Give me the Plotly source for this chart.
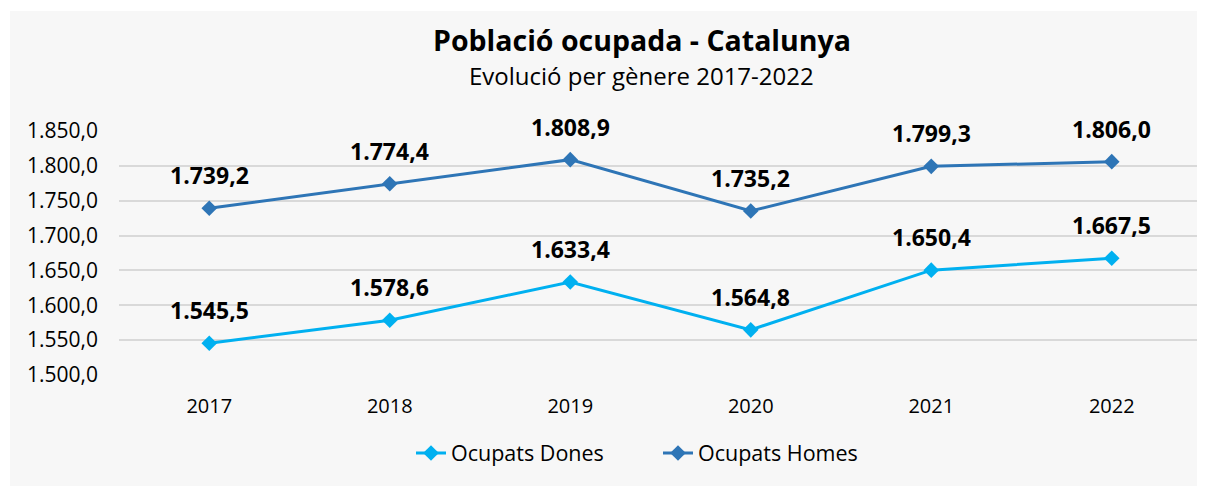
import plotly.graph_objects as go

years = ["2017", "2018", "2019", "2020", "2021", "2022"]
dones = [1545.5, 1578.6, 1633.4, 1564.8, 1650.4, 1667.5]
homes = [1739.2, 1774.4, 1808.9, 1735.2, 1799.3, 1806.0]
y_ticks = [1500, 1550, 1600, 1650, 1700, 1750, 1800, 1850]

def fmt(v):
    s = f"{v:,.1f}"
    return s.replace(",", "X").replace(".", ",").replace("X", ".")

FONT = "Open Sans"
OFF = 8  # page body margin
W, H = 1205 - OFF, 487 - OFF
ml, mr, mt, mb = 119 - OFF, 3, 131 - OFF, 112
pw, ph = W - ml - mr, H - mt - mb

def px_x(p):
    return (p - OFF - ml) / pw

def px_y(p):
    return (H - mb - (p - OFF)) / ph

fig = go.Figure()
fig.add_trace(go.Scatter(x=years, y=dones, name="Ocupats Dones", mode="lines+markers",
                         line=dict(color="#00b0f0", width=3),
                         marker=dict(symbol="diamond", size=12, color="#00b0f0")))
fig.add_trace(go.Scatter(x=years, y=homes, name="Ocupats Homes", mode="lines+markers",
                         line=dict(color="#2e75b6", width=3),
                         marker=dict(symbol="diamond", size=12, color="#2e75b6")))

annotations = []
for series in (dones, homes):
    for i, v in enumerate(series):
        annotations.append(dict(x=i, y=v, xref="x", yref="y", text="<b>" + fmt(v) + "</b>",
                                showarrow=False, yshift=33, xanchor="center", yanchor="middle",
                                font=dict(family=FONT, size=23, color="#000000")))

annotations.append(dict(xref="paper", yref="paper", x=px_x(642), y=px_y(40), xanchor="center", yanchor="middle",
                        text="<b>Població ocupada - Catalunya</b>",
                        showarrow=False, font=dict(family=FONT, size=28.5, color="#000000")))
annotations.append(dict(xref="paper", yref="paper", x=px_x(641), y=px_y(75), xanchor="center", yanchor="middle",
                        text="Evolució per gènere 2017-2022",
                        showarrow=False, font=dict(family=FONT, size=24, color="#000000")))

fig.add_shape(type="rect", xref="paper", yref="paper", x0=px_x(10), x1=px_x(1203), y0=px_y(486), y1=px_y(11),
              fillcolor="#f7f7f7", line=dict(width=0), layer="below")

fig.update_layout(
    width=W, height=H,
    margin=dict(l=ml, r=mr, t=mt, b=mb),
    paper_bgcolor="#ffffff", plot_bgcolor="rgba(0,0,0,0)",
    separators=",.",
    annotations=annotations,
    showlegend=True,
    legend=dict(orientation="h", x=px_x(411), xanchor="left", y=px_y(453), yanchor="middle",
                font=dict(family=FONT, size=21.5, color="#000000"), bgcolor="rgba(0,0,0,0)",
                entrywidth=202, entrywidthmode="pixels"),
    font=dict(family=FONT, color="#000000"),
)
fig.update_xaxes(type="category", range=[-0.5, 5.5], showgrid=False, showline=False, zeroline=False,
                 tickfont=dict(family=FONT, size=20, color="#000000"), ticks="", ticklabelstandoff=17)
fig.update_yaxes(range=[1500, 1850], tickvals=y_ticks, tickformat=",.1f", showgrid=True,
                 gridcolor="#d9d9d9", gridwidth=2, zeroline=False, showline=False,
                 tickfont=dict(family=FONT, size=21, color="#000000"), ticklabelstandoff=20)

fig.write_html("out.html")
